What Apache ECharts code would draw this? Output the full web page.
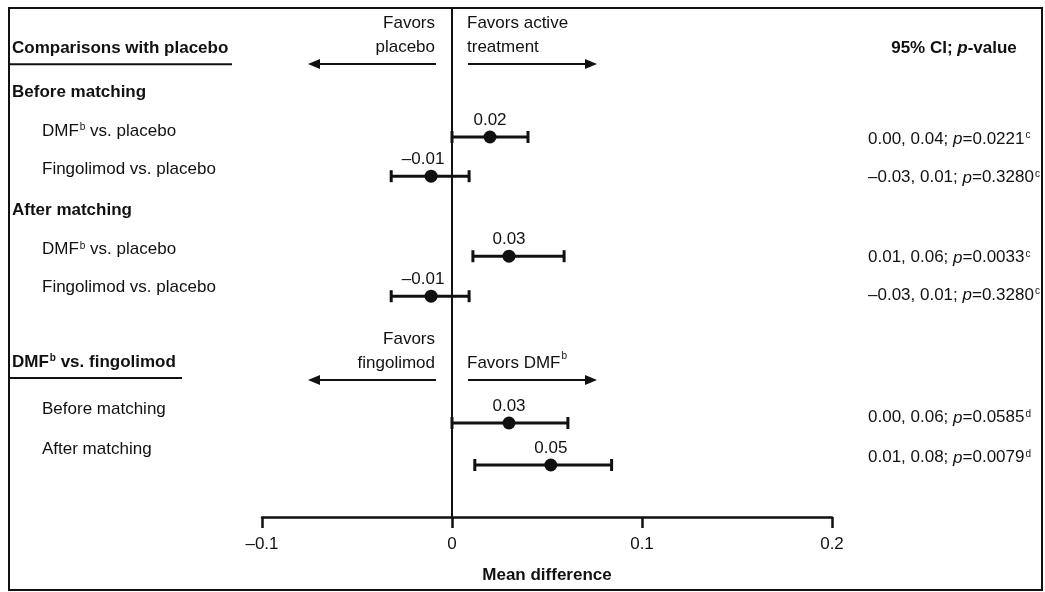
<!DOCTYPE html>
<html>
<head>
<meta charset="utf-8">
<style>
  html, body { margin: 0; padding: 0; background: #fff; }
  #chart { width: 1045px; height: 592px; }
</style>
<script src="https://cdn.jsdelivr.net/npm/echarts@6/dist/echarts.min.js"></script>
</head>
<body>
<div id="chart"></div>
<script>
// Forest plot: mean difference with 95% CI for each comparison.
const comparisons = [
  'DMF{sup|b} vs. placebo',
  'Fingolimod vs. placebo',
  'DMF{sup|b} vs. placebo',
  'Fingolimod vs. placebo',
  'Before matching',
  'After matching'
];
const meanDiff = [0.02, -0.011, 0.03, -0.011, 0.03, 0.052];
const ciLow    = [0.00, -0.032, 0.011, -0.032, 0.00, 0.012];
const ciHigh   = [0.04,  0.009, 0.059,  0.009, 0.061, 0.084];
const pValues  = ['0.0221', '0.3280', '0.0033', '0.3280', '0.0585', '0.0079'];
const pNotes   = ['c', 'c', 'c', 'c', 'd', 'd'];

const sections = ['Comparisons with placebo', 'Before matching', 'After matching', 'DMF{sup|b} vs. fingolimod'];
const columnTitle = '95% CI; {i|p}-value';
const favorsLeft  = ['Favors\nplacebo', 'Favors\nfingolimod'];
const favorsRight = ['Favors active\ntreatment', 'Favors DMF{sup|b}'];
const xTicks = [-0.1, 0, 0.1, 0.2];
const xTitle = 'Mean difference';

// Layout: vertical slots (in row units of the hidden y axis)
const markRow    = [3, 3.98, 5.98, 6.98, 10.15, 11.2];
const textRow    = [3.05, 4.02, 6.02, 6.95, 10.02, 11.02];
const sectionRow = [0.78, 1.875, 4.825, 8.625];
const sectionUnderline = [222, 0, 0, 172];
const favorsRow  = [1.175, 9.075];

const FONT = '"Liberation Sans", Arial, Helvetica, sans-serif';
const INK = '#111';
const FS = 17;

const rich = {
  sup: { fontSize: 10, verticalAlign: 'top', fill: INK, fontFamily: FONT, padding: [0, 0, 0, 1] },
  i: { fontStyle: 'italic', fontSize: FS, fill: INK, fontFamily: FONT }
};
const richBold = {
  sup: { fontSize: 10, verticalAlign: 'top', fill: INK, fontFamily: FONT, fontWeight: 'bold', padding: [0, 0, 0, 1] },
  i: { fontStyle: 'italic', fontWeight: 'bold', fontSize: FS, fill: INK, fontFamily: FONT }
};

const fmt = v => v.toFixed(2).replace('-', '\u2013');

function textEl(x, y, text, opts) {
  return {
    type: 'text',
    style: Object.assign({
      x: x, y: y, text: text, fill: INK,
      fontSize: FS, fontFamily: FONT,
      align: 'left', verticalAlign: 'middle',
      rich: rich
    }, opts || {})
  };
}

const chart = echarts.init(document.getElementById('chart'), null, { renderer: 'canvas' });

const option = {
  animation: false,
  backgroundColor: '#fff',
  grid: { left: 262, right: 213, top: 8, bottom: 75 },
  xAxis: {
    type: 'value',
    min: xTicks[0],
    max: xTicks[xTicks.length - 1],
    interval: 0.1,
    axisLine: { onZero: false, lineStyle: { color: INK, width: 2.5 } },
    axisTick: { length: 11, lineStyle: { color: INK, width: 2.5 } },
    splitLine: { show: false },
    axisLabel: {
      margin: 19, fontSize: FS, color: INK, fontFamily: FONT,
      formatter: v => (v < 0 ? '\u2013' : '') + String(Math.round(Math.abs(v) * 10) / 10)
    },
    name: xTitle,
    nameLocation: 'middle',
    nameGap: 50,
    nameTextStyle: { fontWeight: 'bold', fontSize: FS, color: INK, fontFamily: FONT }
  },
  yAxis: { type: 'value', inverse: true, min: -0.225, max: 12.5, show: false },
  graphic: [
    {
      type: 'rect', silent: true,
      shape: { x: 9, y: 8, width: 1033, height: 582 },
      style: { fill: 'none', stroke: INK, lineWidth: 2 }
    }
  ],
  series: [
    // confidence-interval whiskers
    {
      type: 'custom',
      name: 'ci',
      clip: false,
      encode: { x: [0, 1], y: 2 },
      data: meanDiff.map((_, i) => [ciLow[i], ciHigh[i], markRow[i]]),
      renderItem: function (params, api) {
        const y = api.value(2);
        const a = api.coord([api.value(0), y]);
        const b = api.coord([api.value(1), y]);
        const cap = 6;
        const st = { stroke: INK, lineWidth: 3 };
        return {
          type: 'group',
          children: [
            { type: 'line', shape: { x1: a[0], y1: a[1], x2: b[0], y2: b[1] }, style: st },
            { type: 'line', shape: { x1: a[0], y1: a[1] - cap, x2: a[0], y2: a[1] + cap }, style: st },
            { type: 'line', shape: { x1: b[0], y1: b[1] - cap, x2: b[0], y2: b[1] + cap }, style: st }
          ]
        };
      }
    },
    // point estimates with value labels, plus the line of no effect
    {
      type: 'scatter',
      name: 'estimate',
      z: 5,
      symbol: 'circle',
      symbolSize: 13,
      itemStyle: { color: INK, opacity: 1 },
      data: meanDiff.map((v, i) => ({
        value: [v, markRow[i]],
        label: v < 0 ? { offset: [-8, 0] } : {}
      })),
      label: {
        show: true, position: 'top', distance: 2,
        fontSize: FS, color: INK, fontFamily: FONT,
        formatter: p => fmt(p.value[0])
      },
      emphasis: { disabled: true },
      markLine: {
        silent: true,
        symbol: 'none',
        label: { show: false },
        lineStyle: { color: INK, width: 2, type: 'solid', opacity: 1 },
        data: [{ xAxis: 0 }]
      }
    },
    // row labels on the left
    {
      type: 'custom',
      name: 'rowLabels',
      clip: false,
      silent: true,
      data: comparisons.map((_, i) => [0, textRow[i] - 0.2]),
      renderItem: function (params, api) {
        const p = api.coord([0, api.value(1)]);
        return textEl(42, p[1], comparisons[params.dataIndex]);
      }
    },
    // CI and p-value column
    {
      type: 'custom',
      name: 'ciText',
      clip: false,
      silent: true,
      data: pValues.map((_, i) => [0, textRow[i]]),
      renderItem: function (params, api) {
        const i = params.dataIndex;
        const p = api.coord([0, api.value(1)]);
        const txt = fmt(ciLow[i]) + ', ' + fmt(ciHigh[i]) + '; {i|p}=' + pValues[i] + '{sup|' + pNotes[i] + '}';
        return textEl(868, p[1], txt);
      }
    },
    // section headings
    {
      type: 'custom',
      name: 'sections',
      clip: false,
      silent: true,
      data: sections.map((_, i) => [0, sectionRow[i]]),
      renderItem: function (params, api) {
        const i = params.dataIndex;
        const p = api.coord([0, api.value(1)]);
        const children = [
          textEl(12, p[1], sections[i], { fontWeight: 'bold', rich: richBold })
        ];
        if (sectionUnderline[i] > 0) {
          children.push({
            type: 'line',
            shape: { x1: 10, y1: p[1] + 16, x2: 10 + sectionUnderline[i], y2: p[1] + 16 },
            style: { stroke: INK, lineWidth: 2 }
          });
        }
        if (i === 0) {
          children.push(textEl(954, p[1], columnTitle, { fontWeight: 'bold', align: 'center', rich: richBold }));
        }
        return { type: 'group', children: children };
      }
    },
    // "Favors ..." captions and direction arrows around the zero line
    {
      type: 'custom',
      name: 'favors',
      clip: false,
      silent: true,
      data: favorsRow.map(v => [0, v]),
      renderItem: function (params, api) {
        const i = params.dataIndex;
        const p = api.coord([0, api.value(1)]);
        const zx = p[0], ay = p[1];
        const st = { stroke: INK, lineWidth: 2 };
        const head = 12, half = 5;
        return {
          type: 'group',
          children: [
            textEl(zx - 17, ay - 5, favorsLeft[i], { align: 'right', verticalAlign: 'bottom', lineHeight: 24 }),
            textEl(zx + 15, ay - 5, favorsRight[i], { align: 'left', verticalAlign: 'bottom', lineHeight: 24 }),
            { type: 'line', shape: { x1: zx - 16, y1: ay, x2: zx - 144 + head - 2, y2: ay }, style: st },
            { type: 'polygon', shape: { points: [[zx - 144, ay], [zx - 144 + head, ay - half], [zx - 144 + head, ay + half]] }, style: { fill: INK } },
            { type: 'line', shape: { x1: zx + 16, y1: ay, x2: zx + 145 - head + 2, y2: ay }, style: st },
            { type: 'polygon', shape: { points: [[zx + 145, ay], [zx + 145 - head, ay - half], [zx + 145 - head, ay + half]] }, style: { fill: INK } }
          ]
        };
      }
    }
  ]
};

chart.setOption(option);
</script>
</body>
</html>
